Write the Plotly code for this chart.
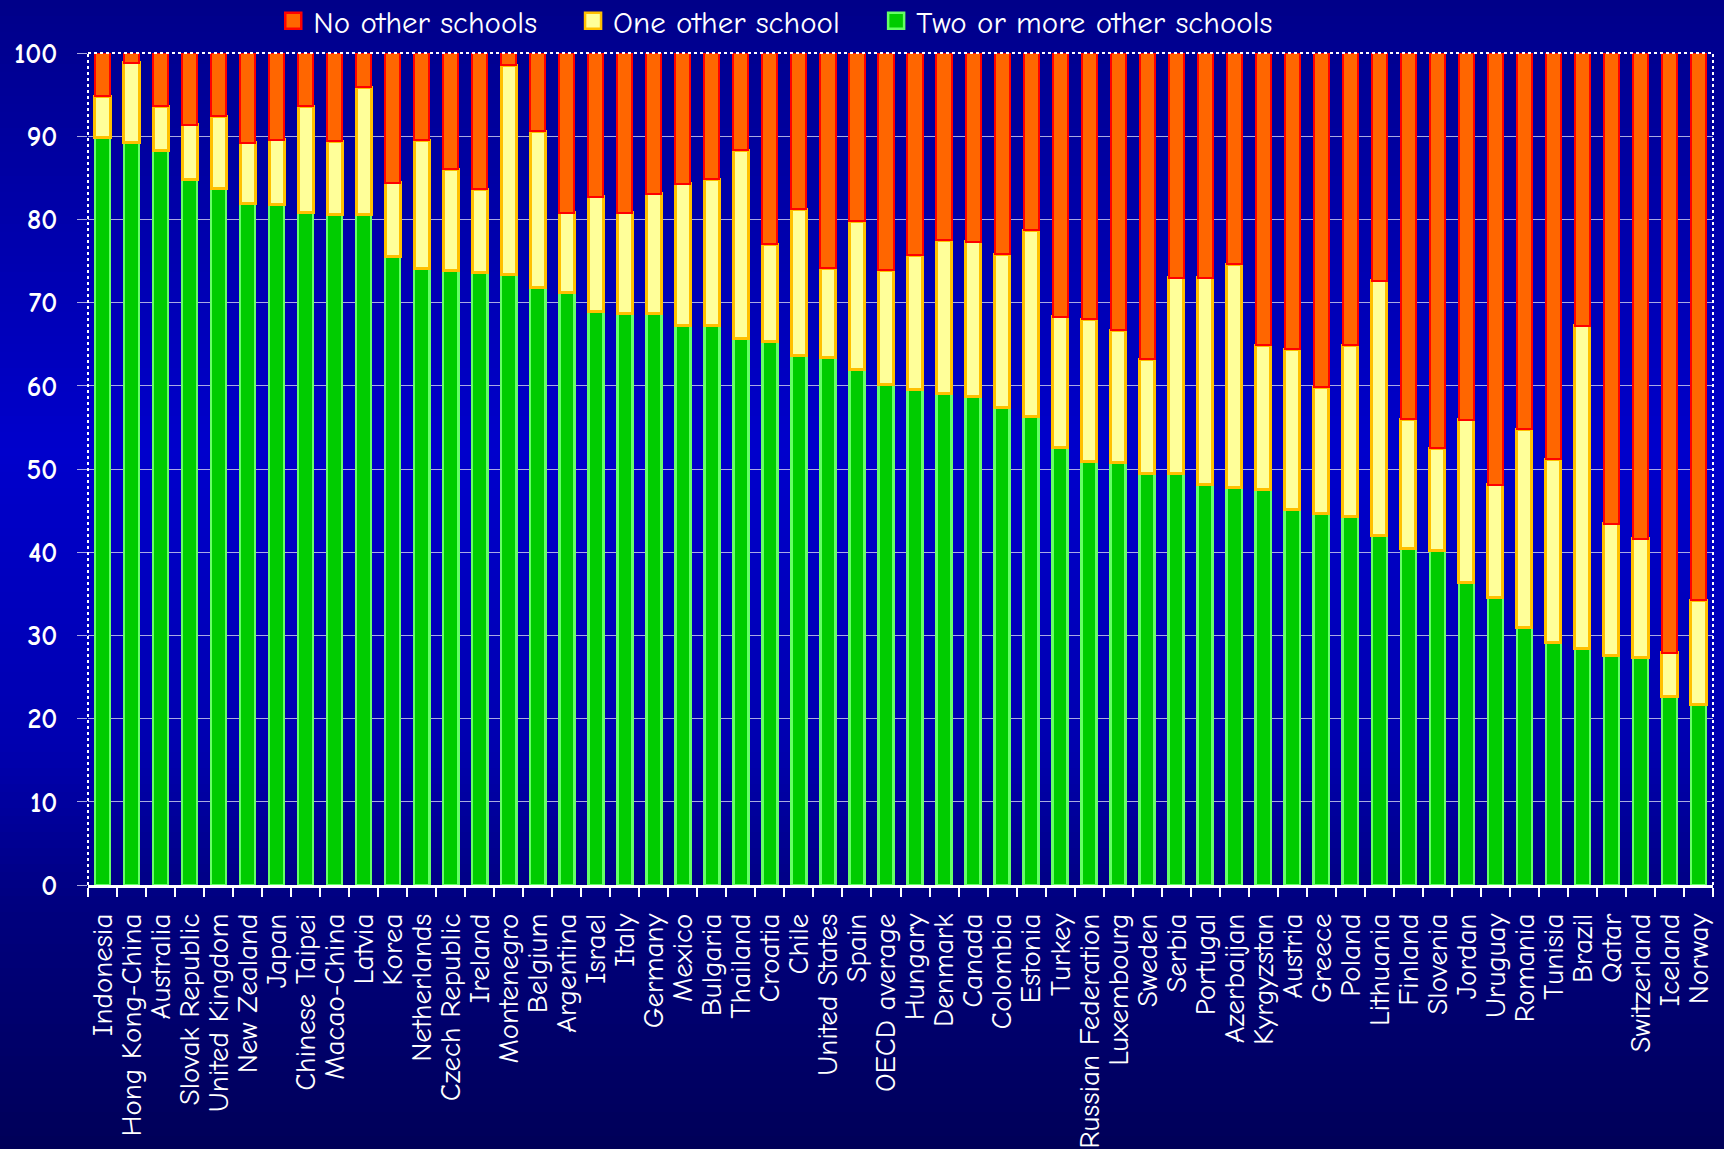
import plotly.graph_objects as go

countries = ["Indonesia", "Hong Kong-China", "Australia", "Slovak Republic", "United Kingdom",
             "New Zealand", "Japan", "Chinese Taipei", "Macao-China", "Latvia", "Korea",
             "Netherlands", "Czech Republic", "Ireland", "Montenegro", "Belgium", "Argentina",
             "Israel", "Italy", "Germany", "Mexico", "Bulgaria", "Thailand", "Croatia", "Chile",
             "United States", "Spain", "OECD average", "Hungary", "Denmark", "Canada", "Colombia",
             "Estonia", "Turkey", "Russian Federation", "Luxembourg", "Sweden", "Serbia",
             "Portugal", "Azerbaijan", "Kyrgyzstan", "Austria", "Greece", "Poland", "Lithuania",
             "Finland", "Slovenia", "Jordan", "Uruguay", "Romania", "Tunisia", "Brazil", "Qatar",
             "Switzerland", "Iceland", "Norway"]

two_or_more = [89.8, 89.3, 88.3, 84.8, 83.7, 81.9, 81.8, 80.8, 80.6, 80.6, 75.6, 74.1, 73.8, 73.6,
               73.4, 71.8, 71.2, 68.9, 68.7, 68.7, 67.3, 67.2, 65.7, 65.3, 63.7, 63.4, 61.9, 60.1,
               59.6, 59.1, 58.7, 57.4, 56.3, 52.6, 50.9, 50.8, 49.5, 49.5, 48.1, 47.8, 47.5, 45.1,
               44.7, 44.3, 42.0, 40.4, 40.2, 36.4, 34.5, 31.0, 29.2, 28.4, 27.6, 27.3, 22.7, 21.7]

one_other = [5.0, 9.5, 5.3, 6.6, 8.7, 7.3, 7.8, 12.8, 8.8, 15.3, 8.8, 15.4, 12.2, 10.0, 25.1, 18.8,
             9.6, 13.8, 12.1, 14.4, 17.0, 17.6, 22.6, 11.7, 17.5, 10.7, 17.9, 13.8, 16.1, 18.4,
             18.6, 18.4, 22.4, 15.7, 17.1, 15.9, 13.7, 23.5, 24.9, 26.8, 17.4, 19.3, 15.1, 20.6,
             30.6, 15.6, 12.3, 19.5, 13.6, 23.8, 22.0, 38.8, 15.8, 14.3, 5.2, 12.5]

no_other = [5.2, 1.2, 6.4, 8.6, 7.6, 10.8, 10.4, 6.4, 10.6, 4.1, 15.6, 10.5, 14.0, 16.4, 1.5, 9.4,
            19.2, 17.3, 19.2, 16.9, 15.7, 15.2, 11.7, 23.0, 18.8, 25.9, 20.2, 26.1, 24.3, 22.5,
            22.7, 24.2, 21.3, 31.7, 32.0, 33.3, 36.8, 27.0, 27.0, 25.4, 35.1, 35.6, 40.2, 35.1,
            27.4, 44.0, 47.5, 44.1, 51.9, 45.2, 48.8, 32.8, 56.6, 58.4, 72.1, 65.8]

y_ticks = [0, 10, 20, 30, 40, 50, 60, 70, 80, 90, 100]

FONT = "Comic Sans MS, Comic Neue, Open Sans, sans-serif"

W, H = 1724, 1149
L, R, T, B = 88, 11, 53, 264
plot_h = H - T - B

series = [
    ("Two or more other schools", two_or_more, "#00CC00", "#66FF66", 2.5, "legend3"),
    ("One other school", one_other, "#FFFF99", "#FFC000", 3, "legend2"),
    ("No other schools", no_other, "#FF6600", "#FF0000", 2, "legend"),
]

fig = go.Figure()
for name, vals, fill, edge, lw, _ in series:
    fig.add_trace(go.Bar(x=countries, y=vals, name=name, showlegend=False,
                         marker=dict(color=fill, line=dict(color=edge, width=lw)),
                         width=0.52))
# legend entries (larger square symbols)
for name, vals, fill, edge, lw, lg in series:
    fig.add_trace(go.Scatter(x=[countries[0]], y=[None], name=name, mode="markers",
                             legend=lg, showlegend=True,
                             marker=dict(symbol="square", size=16, color=fill,
                                         line=dict(color=edge, width=2.5))))

# background gradient bands
stops = [(0, (0, 0, 136)), (80, (0, 0, 150)), (450, (0, 0, 204)), (750, (0, 0, 175)),
         (900, (0, 0, 128)), (1149, (0, 0, 88))]


def col_at(py):
    for (y0, c0), (y1, c1) in zip(stops[:-1], stops[1:]):
        if y0 <= py <= y1:
            f = (py - y0) / (y1 - y0)
            return tuple(int(round(a + (b - a) * f)) for a, b in zip(c0, c1))
    return stops[-1][1]


shapes = []
step = 8
for py in range(0, H, step):
    c = col_at(py + step / 2)
    y_top = (H - B - py) / plot_h
    y_bot = (H - B - (py + step + 1)) / plot_h
    shapes.append(dict(type="rect", xref="paper", yref="paper", x0=-0.1, x1=1.1,
                       y0=y_bot, y1=y_top, line=dict(width=0),
                       fillcolor="rgb(%d,%d,%d)" % c, layer="below"))

# dotted border of plot area
shapes.append(dict(type="line", xref="paper", yref="paper", x0=0, x1=1, y0=1, y1=1,
                   line=dict(color="white", width=2, dash="dot"), layer="above"))
shapes.append(dict(type="line", xref="paper", yref="paper", x0=0, x1=0, y0=0, y1=1,
                   line=dict(color="white", width=2, dash="dot"), layer="above"))
shapes.append(dict(type="line", xref="paper", yref="paper", x0=1, x1=1, y0=0, y1=1,
                   line=dict(color="white", width=2, dash="dot"), layer="above"))

leg_common = dict(orientation="h", yref="container", y=1 - 21 / H, yanchor="middle",
                  xanchor="left", font=dict(size=31, color="white", family=FONT),
                  bgcolor="rgba(0,0,0,0)", itemwidth=30)

fig.update_layout(
    width=W, height=H,
    margin=dict(l=L, r=R, t=T, b=B, autoexpand=False),
    barmode="stack",
    paper_bgcolor="#000080",
    plot_bgcolor="rgba(0,0,0,0)",
    shapes=shapes,
    font=dict(family=FONT, color="white"),
    legend=dict(x=0.114, **leg_common),
    legend2=dict(x=0.2985, **leg_common),
    legend3=dict(x=0.485, **leg_common),
    xaxis=dict(tickangle=-90, tickfont=dict(size=29, color="white", family=FONT),
               tickmode="array", tickvals=countries, ticktext=countries,
               showline=True, linecolor="white", linewidth=3,
               ticks="outside", tickson="boundaries", ticklen=9, tickwidth=2,
               tickcolor="white", showgrid=False, range=[-0.5, 55.5],
               ticklabelstandoff=14),
    yaxis=dict(range=[0, 100], tickvals=y_ticks,
               tickfont=dict(size=28, color="white", family=FONT, weight="bold"),
               showgrid=True, gridcolor="rgba(200,200,235,0.85)", gridwidth=1,
               ticks="outside", ticklen=10, tickcolor="rgba(200,200,235,0.85)",
               ticklabelstandoff=14,
               showline=False, zeroline=False),
    bargap=0.5,
)

fig.write_html("out.html", config={"displayModeBar": False},
               post_script="document.body.style.margin='0';document.body.style.background='#000060';")
